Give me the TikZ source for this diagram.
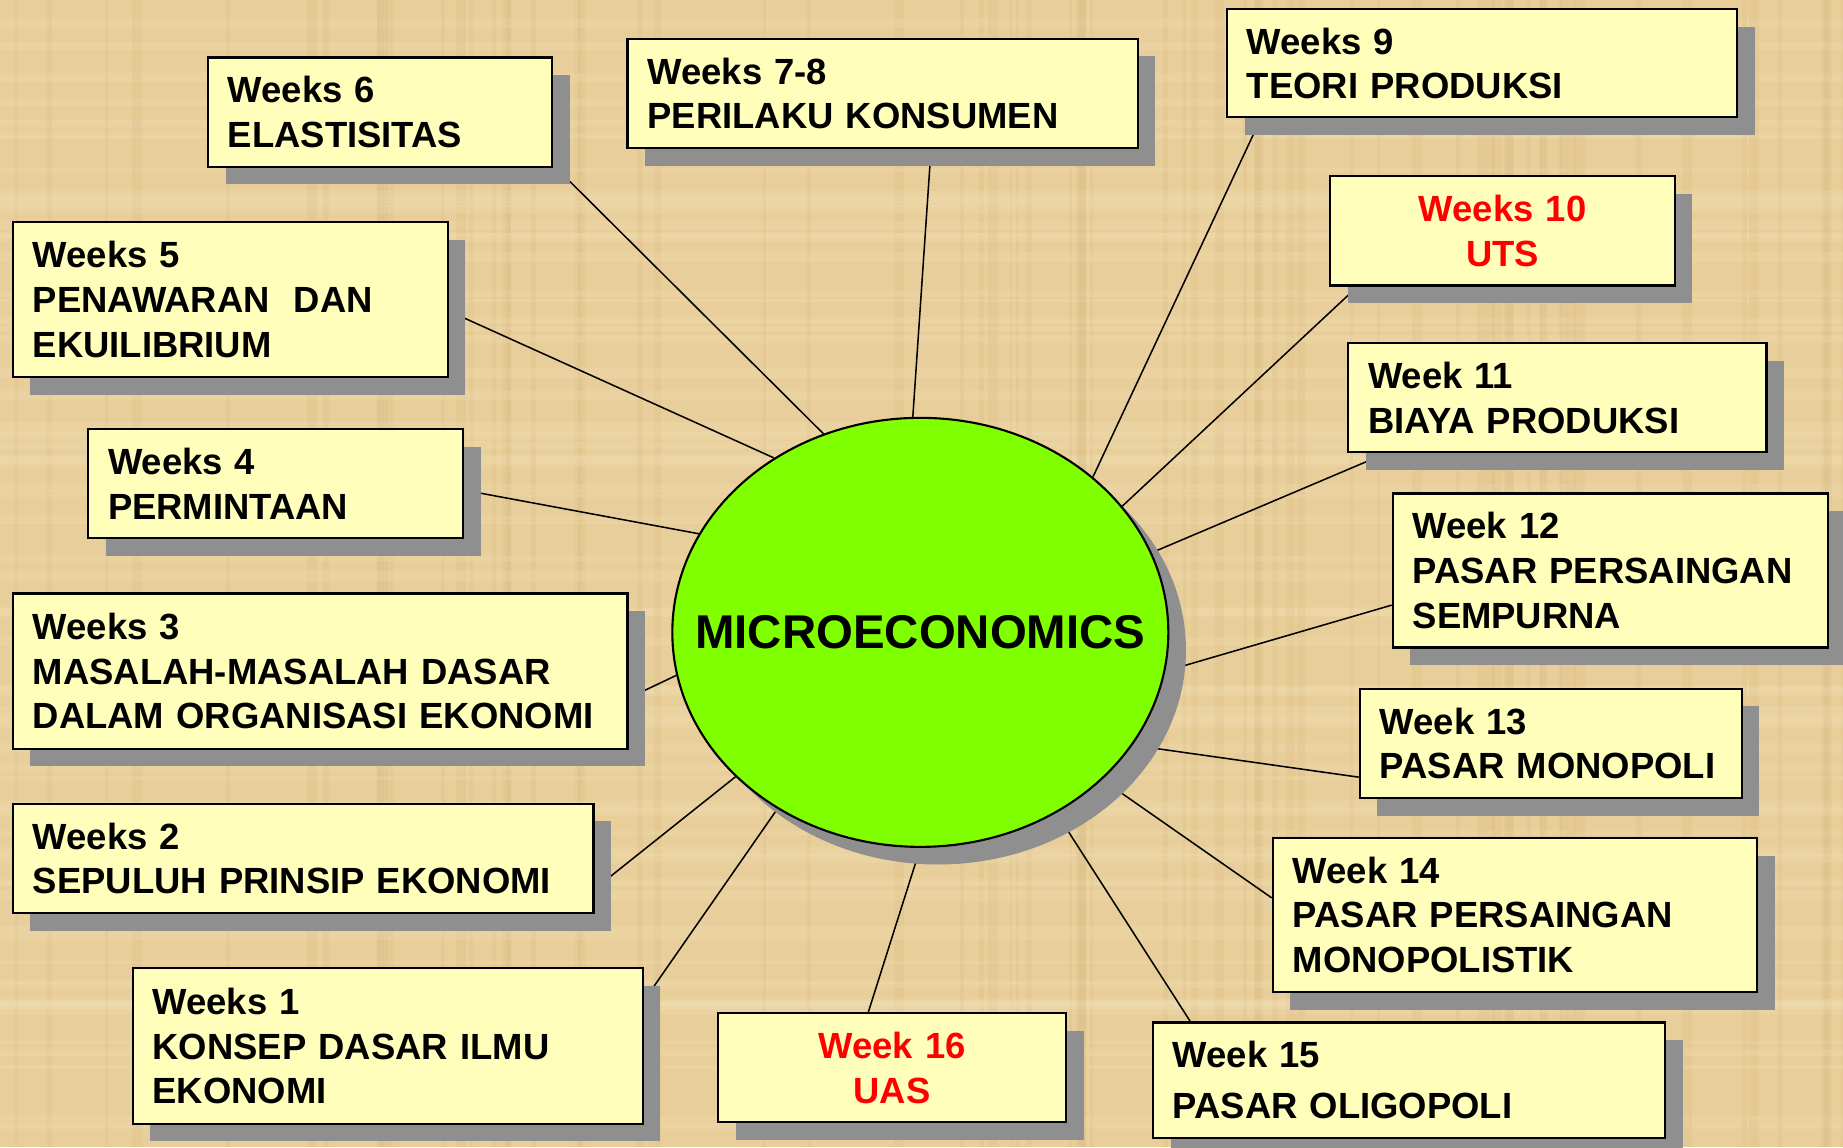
\documentclass[tikz,border=0pt]{standalone}
\usepackage{fontspec}
\setmainfont{Liberation Sans}
\usetikzlibrary{shapes.geometric}
\usetikzlibrary{shadows}
\usetikzlibrary{backgrounds}

\definecolor{paper}{HTML}{E8CE9A}
\definecolor{paperdark}{HTML}{C9A768}
\definecolor{paperlight}{HTML}{F6E6BE}
\definecolor{boxfill}{HTML}{FFFFBB}
\definecolor{ballgreen}{HTML}{80FF00}
\definecolor{shadowgray}{HTML}{8F8F8F}

\begin{document}
\begin{tikzpicture}[x = 1pt, y = -1pt]
	\tikzstyle{shadowStyle} = [drop shadow = {shadow xshift = 15pt, shadow yshift = -15pt, fill = shadowgray, opacity = 1}]
	\tikzstyle{weekStyle} = [shape = rectangle, anchor = north west, draw, line width = 1.8pt, fill = boxfill, shadowStyle, inner xsep = 17pt, inner ysep = 0pt, align = left, font = \fontsize{31}{38}\selectfont\bfseries]
	\tikzstyle{examStyle} = [weekStyle, align = center, text = red]
	\tikzstyle{linkStyle} = [line width = 1.3pt]
	\useasboundingbox (0,0) rectangle (1568,976);
	\node[shape = ellipse, draw, line width = 1.8pt, fill = ballgreen, shadowStyle, minimum width = 422pt, minimum height = 365pt, inner sep = 0pt, label = {[font = \fontsize{40.3}{48}\selectfont\bfseries]center:MICROECONOMICS}] (micro) at (783,538) {};
	\node[weekStyle, text width = 259pt, minimum height = 93pt] (w6) at (176,48) {Weeks 6\\ELASTISITAS};
	\node[weekStyle, text width = 400pt, minimum height = 93pt] (w78) at (533,32) {Weeks 7-8\\PERILAKU KONSUMEN};
	\node[weekStyle, text width = 400pt, minimum height = 92pt] (w9) at (1043,7) {Weeks 9\\TEORI PRODUKSI};
	\node[examStyle, text width = 259pt, minimum height = 93pt] (w10) at (1131,149) {Weeks 10\\UTS};
	\node[weekStyle, text width = 322pt, minimum height = 93pt] (w11) at (1146,291) {Week 11\\BIAYA PRODUKSI};
	\node[weekStyle, text width = 336pt, minimum height = 131pt] (w12) at (1184,419) {Week 12\\PASAR PERSAINGAN\\SEMPURNA};
	\node[weekStyle, text width = 291pt, minimum height = 93pt] (w13) at (1156,585) {Week 13\\PASAR MONOPOLI};
	\node[weekStyle, text width = 378pt, minimum height = 131pt] (w14) at (1082,712) {Week 14\\PASAR PERSAINGAN\\MONOPOLISTIK};
	\node[weekStyle, text width = 402pt, minimum height = 98pt] (w15) at (980,869) {Week 15\\[5pt]PASAR OLIGOPOLI};
	\node[examStyle, text width = 262pt, minimum height = 93pt] (w16) at (610,861) {Week 16\\UAS};
	\node[weekStyle, text width = 400pt, minimum height = 132pt] (w1) at (112,823) {Weeks 1\\KONSEP DASAR ILMU\\EKONOMI};
	\node[weekStyle, text width = 460pt, minimum height = 93pt] (w2) at (10,683) {Weeks 2\\SEPULUH PRINSIP EKONOMI};
	\node[weekStyle, text width = 489pt, minimum height = 132pt] (w3) at (10,504) {Weeks 3\\MASALAH-MASALAH DASAR\\DALAM ORGANISASI EKONOMI};
	\node[weekStyle, text width = 285pt, minimum height = 93pt] (w4) at (74,364) {Weeks 4\\PERMINTAAN};
	\node[weekStyle, text width = 336pt, minimum height = 132pt] (w5) at (10,188) {Weeks 5\\PENAWARAN~ DAN\\EKUILIBRIUM};
	\begin{scope}[on background layer]
		\fill[paper] (0,0) rectangle (1568,976);
		% papyrus fibres
		\pgfmathsetseed{17}
		\foreach \i in {1,...,70}{
			\pgfmathsetmacro{\fx}{1568*rnd}
			\pgfmathsetmacro{\fw}{2+7*rnd}
			\fill[paperdark, opacity = 0.12] (\fx,0) rectangle ++(\fw,976);
			\pgfmathsetmacro{\fy}{976*rnd}
			\pgfmathsetmacro{\fh}{2+7*rnd}
			\fill[paperlight, opacity = 0.2] (0,\fy) rectangle ++(1568,\fh);
		}
		\draw[linkStyle] (micro.116) -- (w6.-17);
		\draw[linkStyle] (micro.92) -- (w78.-49);
		\draw[linkStyle] (micro.42) -- (w9.194);
		\draw[linkStyle] (micro.32) -- (w10.201);
		\draw[linkStyle] (micro.19) -- (w11.198);
		\draw[linkStyle] (micro.-9) -- (w12.189);
		\draw[linkStyle] (micro.-28) -- (w13.190);
		\draw[linkStyle] (micro.-39) -- (w14.176);
		\draw[linkStyle] (micro.-53) -- (w15.165);
		\draw[linkStyle] (micro.-90) -- (w16.113);
		\draw[linkStyle] (micro.231) -- (w1.10);
		\draw[linkStyle] (micro.218) -- (w2.-6);
		\draw[linkStyle] (micro.190) -- (w3.-5);
		\draw[linkStyle] (micro.156) -- (w4.-2);
		\draw[linkStyle] (micro.130) -- (w5.-3);
	\end{scope}
\end{tikzpicture}
\end{document}
